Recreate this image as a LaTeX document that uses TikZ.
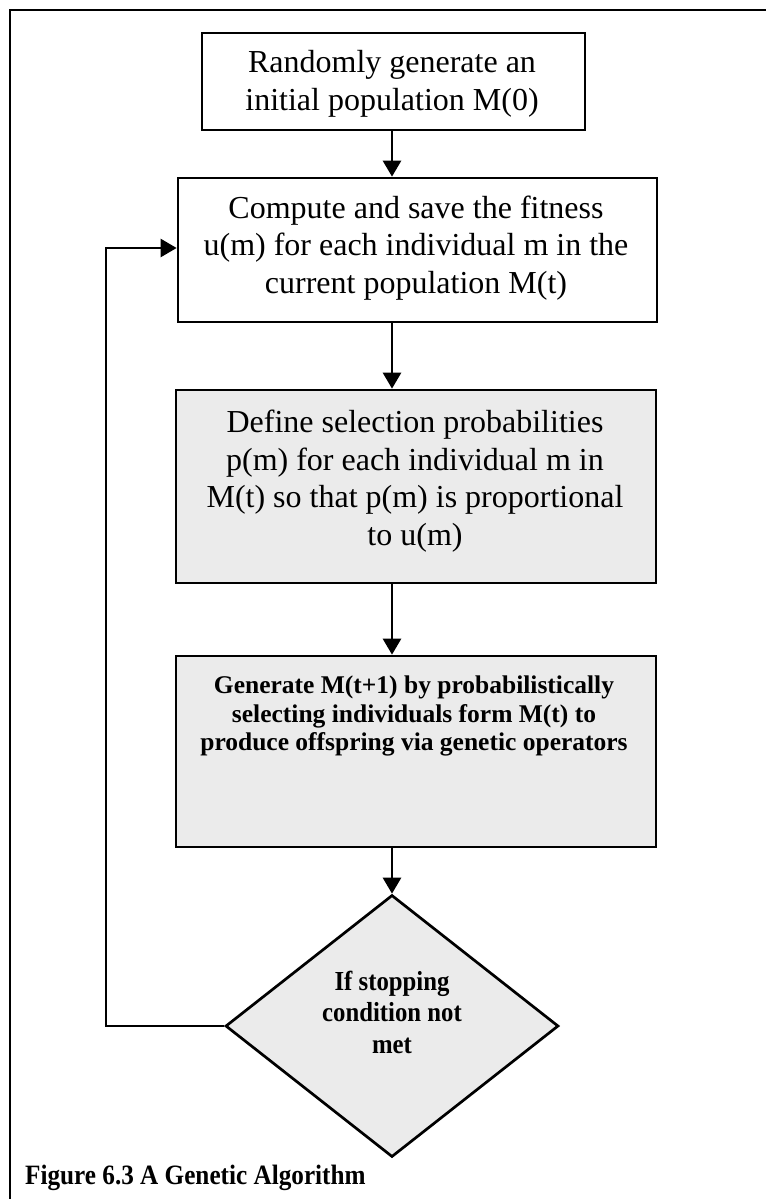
\documentclass[tikz,border=0pt]{standalone}
\usepackage{fontspec}
\setmainfont{Liberation Serif}
\newfontfamily\condserif{Liberation Serif}[FakeStretch=0.9]
\usetikzlibrary{arrows.meta,shapes.geometric}
\definecolor{stipple}{gray}{0.92}
\begin{document}
\begin{tikzpicture}[x=1pt,y=-1pt,
  boxshape/.style={draw,line width=2.7pt,inner sep=0pt,rectangle},
  greybox/.style={boxshape,fill=stipple},
  regtxt/.style={align=center,inner sep=0pt,font=\fontsize{32}{37.5}\selectfont},
  boldtxt/.style={align=center,inner sep=0pt,font=\fontsize{25.5}{28.5}\selectfont\bfseries},
  condtxt/.style={align=center,inner sep=0pt,font=\fontsize{27.5}{31.5}\selectfont\condserif\bfseries},
  arr/.style={line width=2.8pt,-{Triangle[length=16pt,width=18pt]}},
  loopline/.style={line width=2.4pt}
]
\useasboundingbox (0,0) rectangle (766,1199);
% frame
\coordinate (fbl) at (10,1199);
\coordinate (ftl) at (10,10);
\coordinate (ftr) at (766,10);
\draw[line width=2.4pt] (fbl) -- (ftl) -- (ftr);
% boxes
\node[boxshape,minimum width=383pt,minimum height=97pt] (b1) at (393.5,81.5) {};
\node[boxshape,minimum width=479pt,minimum height=144pt] (b2) at (417.5,250) {};
\node[greybox,minimum width=480pt,minimum height=193pt] (b3) at (416,486.5) {};
\node[greybox,minimum width=480pt,minimum height=191pt] (b4) at (416,751.5) {};
\node[draw,line width=2.7pt,fill=stipple,diamond,inner sep=0pt,minimum width=333pt,minimum height=262pt] (dia) at (392,1026) {};
% texts
\node[regtxt] (t1) at (392,84) {Randomly generate an\\initial population M(0)};
\node[regtxt] (t2) at (416,248) {Compute and save the fitness\\u(m) for each individual m in the\\current population M(t)};
\node[regtxt] (t3) at (415,481) {Define selection probabilities\\p(m) for each individual m in\\M(t) so that p(m) is proportional\\to u(m)};
\node[boldtxt] (t4) at (414,716) {Generate M(t+1) by probabilistically\\selecting individuals form M(t) to\\produce offspring via genetic operators};
\node[condtxt] (td) at (392,1012) {If stopping\\condition not\\met};
\node[condtxt,font=\fontsize{28}{32}\selectfont\condserif\bfseries,anchor=base west] (cap) at (25,1184) {Figure 6.3 A Genetic Algorithm};
% spine
\coordinate (sp) at (392,0);
\coordinate (loopc) at (106,1026);
\draw[arr] (b1.south -| sp) -- (b2.north -| sp);
\draw[arr] (b2.south -| sp) -- (b3.north -| sp);
\draw[arr] (b3.south -| sp) -- (b4.north -| sp);
\draw[arr] (b4.south -| dia.north) -- (dia.north);
\draw[arr,line width=2.4pt] (dia.west) -- (loopc) |- ([yshift=2pt]b2.west);
\end{tikzpicture}
\end{document}
